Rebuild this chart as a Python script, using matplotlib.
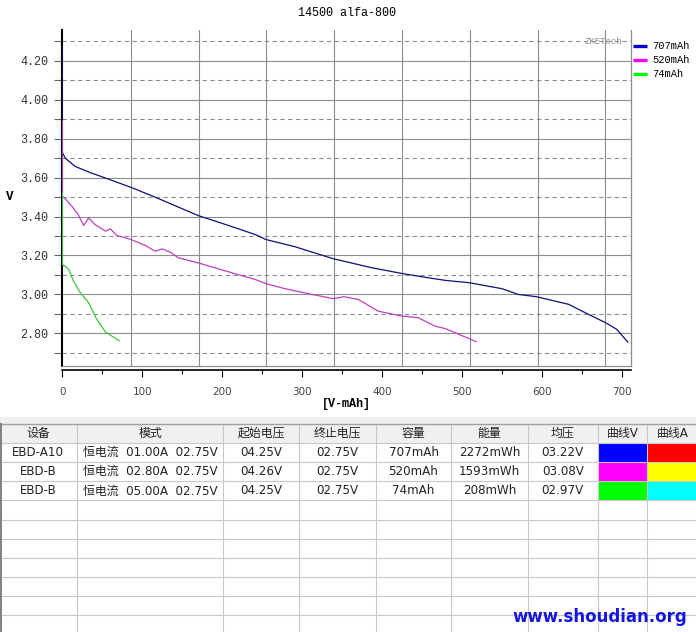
"""Discharge curve chart for a 14500 cell, with test summary table."""

import matplotlib

matplotlib.use("Agg")
import matplotlib.pyplot as plt
import numpy as np
from matplotlib.patches import Rectangle

W, H = 696, 632

TITLE = "14500 alfa-800"
SERIES_NAMES = ["707mAh", "520mAh", "74mAh"]
LINE_COLORS = ["#10107a", "#c040c0", "#3cc83c"]
LEGEND_COLORS = ["#0000cc", "#ff00ff", "#00ff00"]

# capacity (mAh) and voltage (V)
cap_707 = [0, 0, 3.75, 16, 33, 54, 86, 116, 170, 208, 241, 254.6, 291, 339,
           387, 424, 466, 479, 509, 550, 570, 593, 633, 658, 679, 693, 707]
volt_707 = [4.27, 3.73, 3.70, 3.658, 3.629, 3.598, 3.550, 3.50, 3.405, 3.354,
            3.308, 3.282, 3.245, 3.183, 3.137, 3.108, 3.080, 3.072, 3.060,
            3.029, 3.00, 2.988, 2.949, 2.897, 2.855, 2.821, 2.755]

cap_520 = [0, 0, 3.75, 12, 20, 26.7, 33, 41, 54, 60, 68, 86, 104, 116, 125,
           135, 145, 170, 212, 241, 254.6, 279, 312, 339, 352, 370, 395, 424,
           445, 466, 479, 517.5]
volt_520 = [3.89, 3.504, 3.491, 3.453, 3.410, 3.354, 3.393, 3.359, 3.325,
            3.337, 3.303, 3.282, 3.251, 3.222, 3.234, 3.217, 3.188, 3.162,
            3.111, 3.077, 3.055, 3.029, 3.00, 2.978, 2.988, 2.974, 2.914,
            2.889, 2.880, 2.837, 2.824, 2.757]

cap_74 = [0, 0, 3.75, 8, 14, 22.5, 33, 43, 54, 71]
volt_74 = [3.52, 3.154, 3.145, 3.128, 3.068, 3.009, 2.957, 2.872, 2.807, 2.762]

Y_MAJOR = [2.8, 3.0, 3.2, 3.4, 3.6, 3.8, 4.0, 4.2]
Y_MINOR = [2.7, 2.9, 3.1, 3.3, 3.5, 3.7, 3.9, 4.1, 4.3]
X_TICKS = [0, 100, 200, 300, 400, 500, 600, 700]

# summary table
HEADERS = ["设备", "模式", "起始电压", "终止电压", "容量", "能量", "均压", "曲线V", "曲线A"]
DEVICES = ["EBD-A10", "EBD-B", "EBD-B"]
MODE = "恒电流"
CURRENTS = ["01.00A", "02.80A", "05.00A"]
CUTOFFS = ["02.75V", "02.75V", "02.75V"]
START_V = ["04.25V", "04.26V", "04.25V"]
END_V = ["02.75V", "02.75V", "02.75V"]
CAPACITY = ["707mAh", "520mAh", "74mAh"]
ENERGY = ["2272mWh", "1593mWh", "208mWh"]
AVG_V = ["03.22V", "03.08V", "02.97V"]
CURVE_V_COLORS = ["#0000ff", "#ff00ff", "#00ff00"]
CURVE_A_COLORS = ["#ff0000", "#ffff00", "#00ffff"]

MONO = "Liberation Mono"
TABLE_FONT = ["DejaVu Sans", "Noto Sans CJK SC"]
GRID = "#8c8c8c"

fig = plt.figure(figsize=(W / 100, H / 100), dpi=100)

# chart area in pixel terms: x 62..631, y 30..366
ax = fig.add_axes([62.3 / W, (H - 366) / H, (631 - 62.3) / W, 336 / H])
ax.set_xlim(0, 711)
ax.set_ylim(2.632, 4.359)

for y in Y_MAJOR:
    ax.axhline(y, color=GRID, lw=0.8, zorder=0)
for y in Y_MINOR:
    ax.axhline(y, color=GRID, lw=0.8, ls=(0, (4, 3)), zorder=0)
for x in np.linspace(85.8, 679, 8):
    ax.axvline(x, color=GRID, lw=0.8, zorder=0)

curves = [(cap_707, volt_707), (cap_520, volt_520), (cap_74, volt_74)]
for (cap, volt), color in zip(curves, LINE_COLORS):
    ax.plot(cap, volt, color=color, lw=0.9, zorder=3)

ax.set_yticks(Y_MAJOR, labels=[f"{v:.2f}" for v in Y_MAJOR])
ax.set_yticks(Y_MINOR, minor=True)
ax.set_xticks(X_TICKS, labels=[str(v) for v in X_TICKS])
ax.set_xticks(np.arange(50, 711, 100), minor=True)
ax.tick_params(axis="y", which="both", length=6, width=0.8, color="#666666",
               pad=4, labelsize=8.5, labelcolor="#333333")
ax.tick_params(axis="x", which="major", length=5, width=0.8, pad=7,
               labelsize=7.5, labelcolor="#444444")
ax.tick_params(axis="x", which="minor", length=3, width=0.8)
for label in ax.get_xticklabels() + ax.get_yticklabels():
    label.set_family(MONO)

ax.spines["top"].set_visible(False)
ax.spines["left"].set_color("black")
ax.spines["left"].set_linewidth(1.5)
ax.spines["right"].set_color(GRID)
ax.spines["right"].set_linewidth(0.9)
ax.spines["bottom"].set_position(("outward", 3))
ax.spines["bottom"].set_color("black")
ax.spines["bottom"].set_linewidth(1.2)
ax.plot([0, 1], [0, 0], transform=ax.transAxes, color=GRID, lw=0.9,
        clip_on=False, zorder=4)

# overlay in pixel coordinates for texts, legend and table
ov = fig.add_axes([0, 0, 1, 1])
ov.set_xlim(0, W)
ov.set_ylim(H, 0)
ov.axis("off")
ov.patch.set_visible(False)

ov.text(347, 13, TITLE, ha="center", va="center", family=MONO, size=8.5)
ov.text(603, 41, "ZKETech", ha="center", va="center", family=MONO, size=6.5,
        color="#909090")
ov.text(10, 197, "V", ha="center", va="center", family=MONO, size=9,
        weight="bold")
ov.text(346, 404, "[V-mAh]", ha="center", va="center", family=MONO, size=8.5,
        weight="bold")

for i, (name, color) in enumerate(zip(SERIES_NAMES, LEGEND_COLORS)):
    y = 46 + 14 * i
    ov.plot([633, 647], [y, y], color=color, lw=2.4, solid_capstyle="butt")
    ov.text(652, y, name, ha="left", va="center", family=MONO, size=7.5)

# table
col_widths = [76.7, 146.6, 76, 76.4, 75.6, 76.4, 70, 49.6, 50]
col_edges = np.concatenate([[0], np.cumsum(col_widths)])
row_top, row_h, n_rows = 424, 19.1, 11

ov.add_patch(Rectangle((0, 417), W, 7, color="#f0f0f0", lw=0))
ov.add_patch(Rectangle((0, row_top), W, row_h, color="#f0f0f0", lw=0))
for r in range(1, n_rows + 1):
    ov.plot([0, W], [row_top + r * row_h] * 2, color="#c8c8c8", lw=0.8)
for x in col_edges[1:-1]:
    ov.plot([x, x], [row_top, H], color="#c8c8c8", lw=0.8)
ov.plot([0, W], [row_top, row_top], color="#a0a0a0", lw=1.0)
ov.plot([0.7, 0.7], [row_top, H], color="#808080", lw=1.4)

centers = (col_edges[:-1] + col_edges[1:]) / 2
for c, head in enumerate(HEADERS):
    ov.text(centers[c], row_top + row_h / 2, head, ha="center", va="center",
            family=TABLE_FONT, size=8.6, color="#222222")

for i in range(len(DEVICES)):
    y = row_top + (i + 1.5) * row_h
    cells = [DEVICES[i], f"{MODE}  {CURRENTS[i]}  {CUTOFFS[i]}", START_V[i],
             END_V[i], CAPACITY[i], ENERGY[i], AVG_V[i]]
    for c, txt in enumerate(cells):
        ov.text(centers[c], y, txt, ha="center", va="center",
                family=TABLE_FONT, size=8.6, color="#222222")
    top = row_top + (i + 1) * row_h
    for c, color in ((7, CURVE_V_COLORS[i]), (8, CURVE_A_COLORS[i])):
        ov.add_patch(Rectangle((col_edges[c] + 1, top + 1),
                               col_widths[c] - 1.5, row_h - 1.5,
                               color=color, lw=0))

ov.text(600, 617, "www.shoudian.org", ha="center", va="center",
        family="DejaVu Sans", weight="bold", size=12, color="#1515e0",
        zorder=10)

fig.savefig("out.png", dpi=100)
plt.close(fig)
